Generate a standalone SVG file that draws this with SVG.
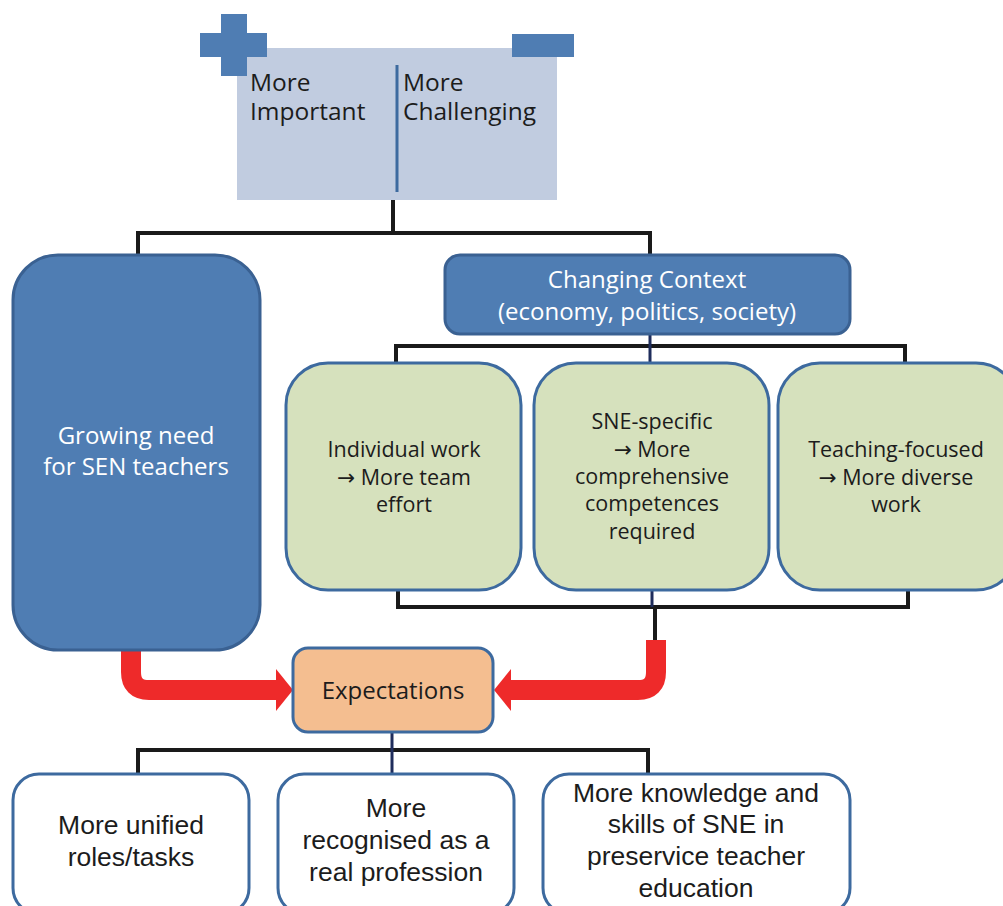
<svg xmlns="http://www.w3.org/2000/svg" width="1003" height="906" viewBox="0 0 1003 906">
<style>
.os{font-family:"Open Sans","Liberation Sans",sans-serif}
.ls{font-family:"Liberation Sans",Arial,sans-serif}
.ar{font-family:"DejaVu Sans",sans-serif}
.dark{fill:#1c1c1c}
.white{fill:#ffffff}
.conn{fill:none;stroke:#1a1a1a;stroke-width:4}
.navy{fill:none;stroke:#1f2d5c;stroke-width:3}
.green{fill:#d6e1bd;stroke:#3d6a9f;stroke-width:3}
.blue{fill:#4f7db3;stroke:#3a6192;stroke-width:3}
.wbox{fill:#ffffff;stroke:#3d6a9f;stroke-width:3}
.red{fill:none;stroke:#ee2a2a;stroke-width:20}
.redh{fill:#ee2a2a}
</style>
<rect width="1003" height="906" fill="#ffffff"/>
<g id="connectors">
<polyline class="conn" points="393,200 393,233"/>
<polyline class="conn" points="138,256 138,233 650,233 650,256"/>
<polyline class="conn" points="396,364 396,346 905,346 905,364"/>
<line class="navy" x1="650" y1="334" x2="650" y2="364"/>
<polyline class="conn" points="398,590 398,607 908,607 908,590"/>
<polyline class="conn" points="655,607 655,642"/>
<line class="navy" x1="652" y1="590" x2="652" y2="607"/>
<polyline class="conn" points="138,775 138,750 648,750 648,775"/>
<line class="navy" x1="392" y1="732" x2="392" y2="775"/>
<path class="red" d="M131,650 V672 Q131,690 149,690 H280"/>
<polygon class="redh" points="276,669 293,690 276,711"/>
<path class="red" d="M656,640 V672 Q656,690 638,690 H508"/>
<polygon class="redh" points="511,669 494,690 511,711"/>
</g>
<g id="top">
<rect x="237" y="48" width="320" height="152" fill="#c1cce0"/>
<rect x="200" y="33" width="67" height="24" fill="#4f7db3"/>
<rect x="221" y="14" width="26" height="62" fill="#4f7db3"/>
<rect x="512" y="34" width="62" height="23" fill="#4f7db3"/>
<line x1="397" y1="65" x2="397" y2="192" stroke="#3d6a9f" stroke-width="3"/>
<text class="os dark" font-size="24.5" x="250" y="91">More</text>
<text class="os dark" font-size="24.5" x="250" y="120">Important</text>
<text class="os dark" font-size="24.5" x="403" y="91">More</text>
<text class="os dark" font-size="24.5" x="403" y="120">Challenging</text>
</g>
<g id="growing">
<rect class="blue" x="13" y="255" width="247" height="395" rx="45"/>
<text class="os white" font-size="24" text-anchor="middle" x="136" y="444">Growing need</text>
<text class="os white" font-size="24" text-anchor="middle" x="136" y="475">for SEN teachers</text>
</g>
<g id="context">
<rect class="blue" x="445" y="255" width="405" height="79" rx="15"/>
<text class="os white" font-size="24" text-anchor="middle" x="647" y="288">Changing Context</text>
<text class="os white" font-size="24" text-anchor="middle" x="647" y="320">(economy, politics, society)</text>
</g>
<g id="individual">
<rect class="green" x="286" y="363" width="235" height="227" rx="42"/>
<text class="os dark" font-size="21.5" text-anchor="middle" x="404" y="457">Individual work</text>
<text class="os dark" font-size="21.5" text-anchor="middle" x="404" y="485"><tspan class="ar">→</tspan> More team</text>
<text class="os dark" font-size="21.5" text-anchor="middle" x="404" y="512">effort</text>
</g>
<g id="sne">
<rect class="green" x="534" y="363" width="235" height="227" rx="42"/>
<text class="os dark" font-size="21.5" text-anchor="middle" x="652" y="429">SNE-specific</text>
<text class="os dark" font-size="21.5" text-anchor="middle" x="652" y="457"><tspan class="ar">→</tspan> More</text>
<text class="os dark" font-size="21.5" text-anchor="middle" x="652" y="484">comprehensive</text>
<text class="os dark" font-size="21.5" text-anchor="middle" x="652" y="511">competences</text>
<text class="os dark" font-size="21.5" text-anchor="middle" x="652" y="539">required</text>
</g>
<g id="teaching">
<rect class="green" x="778" y="363" width="240" height="227" rx="42"/>
<text class="os dark" font-size="21.5" text-anchor="middle" x="896" y="457">Teaching-focused</text>
<text class="os dark" font-size="21.5" text-anchor="middle" x="896" y="485"><tspan class="ar">→</tspan> More diverse</text>
<text class="os dark" font-size="21.5" text-anchor="middle" x="896" y="512">work</text>
</g>
<g id="expectations">
<rect x="293" y="648" width="200" height="84" rx="15" fill="#f4be90" stroke="#3d6a9f" stroke-width="3"/>
<text class="os dark" font-size="24" text-anchor="middle" x="393" y="699">Expectations</text>
</g>
<g id="unified">
<rect class="wbox" x="13" y="774" width="236" height="140" rx="26"/>
<text class="ls dark" font-size="26.5" text-anchor="middle" x="131" y="834">More unified</text>
<text class="ls dark" font-size="26.5" text-anchor="middle" x="131" y="866">roles/tasks</text>
</g>
<g id="recognised">
<rect class="wbox" x="278" y="774" width="236" height="140" rx="26"/>
<text class="ls dark" font-size="26.5" text-anchor="middle" x="396" y="817">More</text>
<text class="ls dark" font-size="26.5" text-anchor="middle" x="396" y="849">recognised as a</text>
<text class="ls dark" font-size="26.5" text-anchor="middle" x="396" y="881">real profession</text>
</g>
<g id="knowledge">
<rect class="wbox" x="543" y="774" width="307" height="140" rx="26"/>
<text class="ls dark" font-size="26.5" text-anchor="middle" x="696" y="802">More knowledge and</text>
<text class="ls dark" font-size="26.5" text-anchor="middle" x="696" y="833">skills of SNE in</text>
<text class="ls dark" font-size="26.5" text-anchor="middle" x="696" y="865">preservice teacher</text>
<text class="ls dark" font-size="26.5" text-anchor="middle" x="696" y="897">education</text>
</g>
</svg>
